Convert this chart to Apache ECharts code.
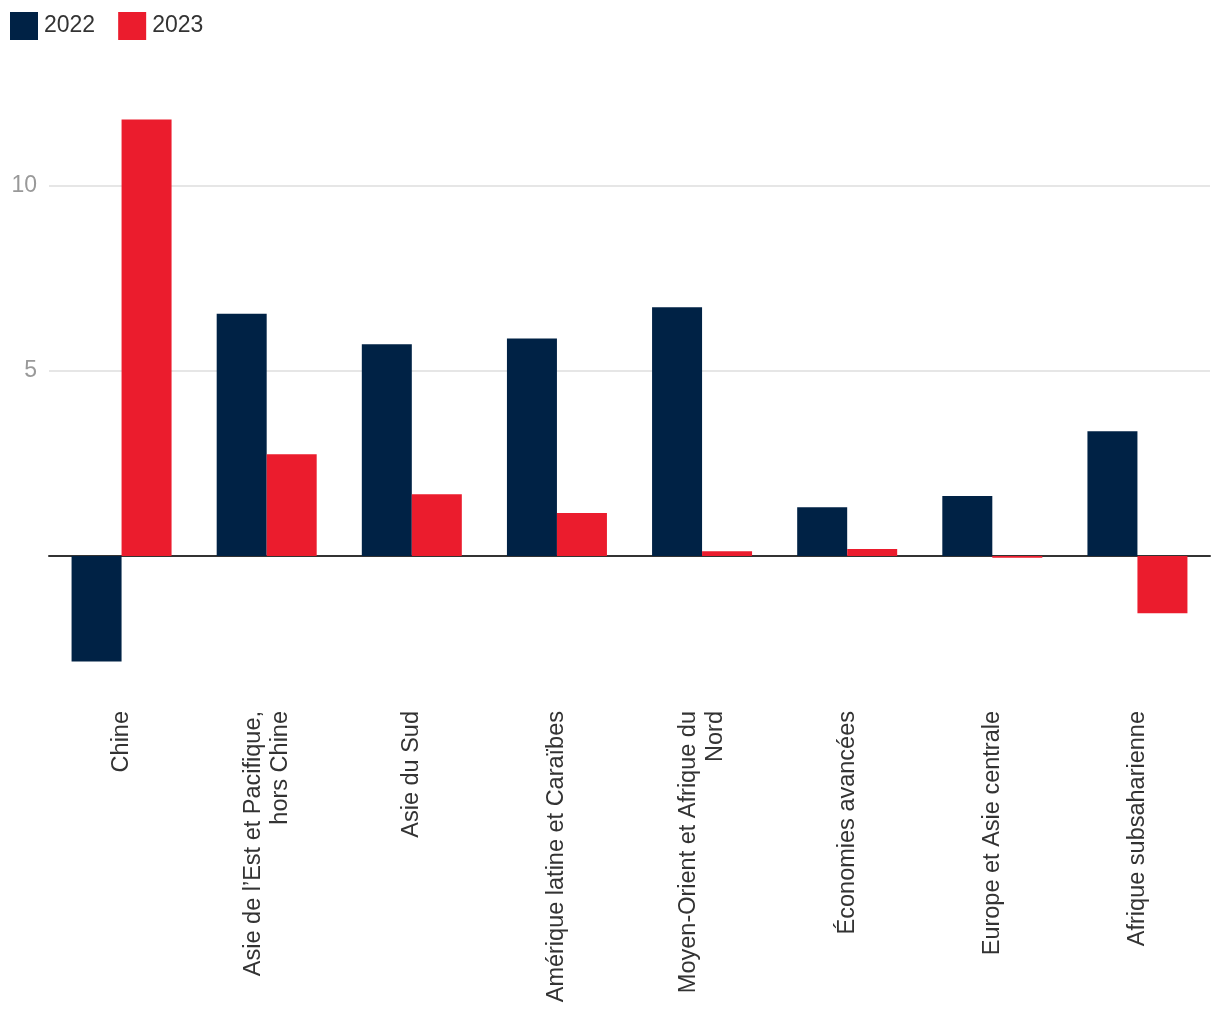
<!DOCTYPE html>
<html>
<head>
<meta charset="utf-8">
<script src="https://cdn.jsdelivr.net/npm/echarts@6/dist/echarts.min.js"></script>
<style>html,body{margin:0;padding:0;background:#fff;overflow:hidden}#c{width:1220px;height:1020px}</style>
</head>
<body>
<div id="c"></div>
<script>
const categories = ["Chine", "Asie de l’Est et Pacifique,\nhors Chine", "Asie du Sud", "Amérique latine et Caraïbes", "Moyen-Orient et Afrique du\nNord", "Économies avancées", "Europe et Asie centrale", "Afrique subsaharienne"];
const seriesNames = ["2022", "2023"];
const values2022 = [-2.85, 6.55, 5.72, 5.88, 6.72, 1.32, 1.62, 3.37];
const values2023 = [11.8, 2.75, 1.67, 1.16, 0.13, 0.19, -0.05, -1.55];
const yTicks = [5, 10];

const chart = echarts.init(document.getElementById('c'), null, {renderer: 'canvas'});
const FONT = '"Liberation Sans", Arial, sans-serif';
const T = 'rgba(0,0,0,0)';
chart.setOption({
  animation: false,
  color: ['#002245', '#eb1c2d'],
  textStyle: {fontFamily: FONT},
  legend: {
    left: 10, top: 12, padding: 0, itemWidth: 28, itemHeight: 28, itemGap: 23,
    icon: 'rect',
    textStyle: {fontSize: 23, color: '#333', fontFamily: FONT, padding: [0, 0, 0, 1]},
    data: seriesNames
  },
  grid: {left: 49, right: 10, top: 112, bottom: 316, containLabel: false},
  xAxis: {
    type: 'category',
    data: categories,
    axisLine: {onZero: true, lineStyle: {color: '#333', width: 2}},
    axisTick: {show: false},
    axisLabel: {
      rotate: 90, interval: 0, fontSize: 23.5, color: '#333', fontFamily: FONT,
      margin: 7, lineHeight: 27, align: 'right'
    }
  },
  yAxis: {
    type: 'value', min: -4, max: 12, interval: 1,
    axisLine: {show: false}, axisTick: {show: false},
    splitLine: {show: true, lineStyle: {color: [T, T, T, T, '#e6e6e6'], width: 2}},
    axisLabel: {
      fontSize: 23, color: '#999', fontFamily: FONT, margin: 12,
      formatter: v => (yTicks.indexOf(v) >= 0 ? String(v) : '')
    }
  },
  series: [
    {name: seriesNames[0], type: 'bar', data: values2022, barWidth: 50, barGap: '0%', itemStyle: {color: '#002245'}},
    {name: seriesNames[1], type: 'bar', data: values2023, barWidth: 50, barGap: '0%', itemStyle: {color: '#eb1c2d'}}
  ]
});
</script>
</body>
</html>
